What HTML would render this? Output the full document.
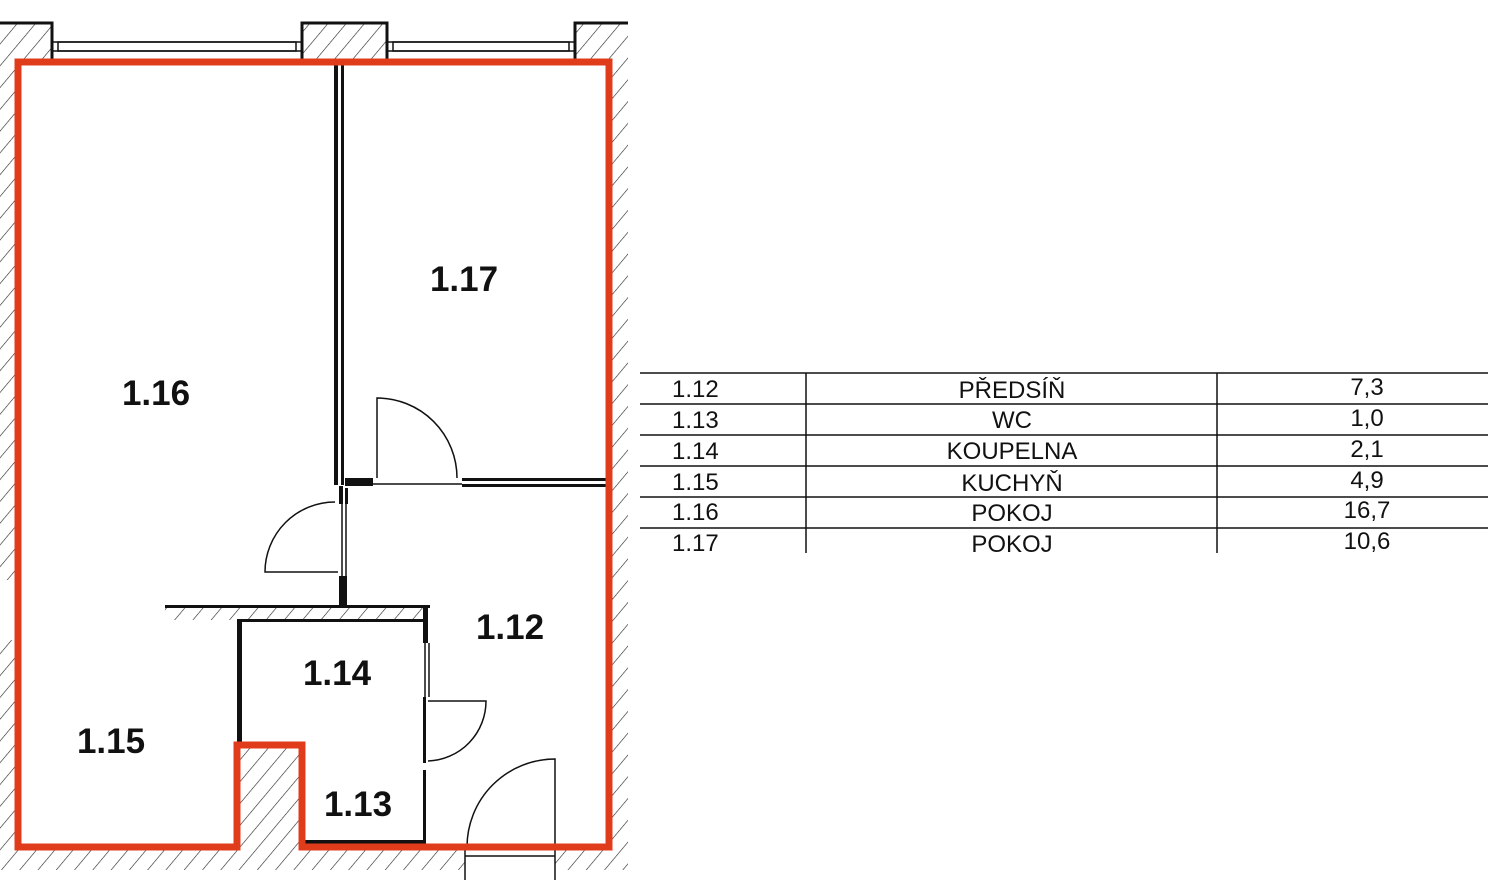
<!DOCTYPE html>
<html><head><meta charset="utf-8"><style>
body{margin:0;background:#fff;width:1495px;height:885px;overflow:hidden}
svg{display:block}
.l{font-family:"Liberation Sans",sans-serif;font-weight:bold;font-size:35px;fill:#111}
.t{font-family:"Liberation Sans",sans-serif;font-size:24px;fill:#111}
</style></head><body>
<svg width="1495" height="885" viewBox="0 0 1495 885">
<defs>
<pattern id="h" width="14" height="14" patternUnits="userSpaceOnUse" patternTransform="rotate(40)">
<rect width="14" height="14" fill="#fff"/><line x1="0" y1="0" x2="0" y2="14" stroke="#222" stroke-width="1.2"/>
</pattern>
</defs>
<!-- hatched outer walls -->
<rect x="0" y="22" width="52" height="40" fill="url(#h)"/>
<rect x="302" y="22" width="85" height="40" fill="url(#h)"/>
<rect x="575" y="22" width="53" height="40" fill="url(#h)"/>
<rect x="0" y="62" width="18" height="808" fill="url(#h)"/>
<rect x="609" y="62" width="19" height="808" fill="url(#h)"/>
<rect x="0" y="847" width="628" height="23" fill="url(#h)"/>
<rect x="237" y="745" width="65" height="102" fill="url(#h)"/>
<rect x="165" y="605" width="265" height="15" fill="url(#h)"/>
<rect x="465" y="850" width="90" height="35" fill="#fff"/>
<rect x="0" y="580" width="18" height="60" fill="#fff"/>
<!-- wall outlines -->
<g stroke="#111" fill="none" stroke-width="3">
<path d="M0 23 H52 V62 M302 62 V23 H387 V62 M575 62 V23 H628"/>
</g>
<g stroke="#111" fill="none" stroke-width="1.5">
<line x1="52" y1="42" x2="302" y2="42"/><line x1="52" y1="51" x2="302" y2="51"/>
<rect x="58" y="42" width="238" height="9"/>
<line x1="387" y1="42" x2="575" y2="42"/><line x1="387" y1="51" x2="575" y2="51"/>
<rect x="393" y="42" width="176" height="9"/>
</g>
<!-- interior walls -->
<g fill="#111">
<rect x="334" y="65" width="4" height="420"/><rect x="341" y="65" width="3" height="420"/>
<rect x="345" y="478" width="28" height="8"/>
<rect x="462" y="478" width="147" height="3"/><rect x="462" y="484" width="147" height="3"/>
<rect x="339" y="486" width="4" height="18"/><rect x="345" y="488" width="3" height="16"/>
<rect x="339" y="576" width="8" height="30"/>
<rect x="165" y="605" width="180" height="3"/><rect x="343" y="605" width="87" height="3"/>
<rect x="240" y="619" width="185" height="3"/>
<rect x="237" y="619" width="5" height="126"/>
<rect x="423" y="605" width="5" height="38"/>
<rect x="423" y="697" width="3" height="66"/>
<rect x="423" y="770" width="3" height="75"/>
<rect x="302" y="840" width="124" height="4"/>
<rect x="237" y="742" width="65" height="4"/>
</g>
<g stroke="#111" fill="none" stroke-width="1.5">
<line x1="372" y1="484" x2="462" y2="484"/>
<line x1="342" y1="504" x2="342" y2="576"/><line x1="346" y1="504" x2="346" y2="576"/>
<line x1="425" y1="643" x2="425" y2="697"/><line x1="429" y1="643" x2="429" y2="697"/>
<!-- doors -->
<path d="M377 478 V398 A80 80 0 0 1 457 478"/>
<path d="M338 572 H265 A70 70 0 0 1 335 502"/>
<path d="M428 701 H486 A60 60 0 0 1 428 761"/>
<path d="M555 847 V759 A88 88 0 0 0 467 847"/>
<line x1="465" y1="850" x2="465" y2="880"/><line x1="555" y1="850" x2="555" y2="880"/>
<line x1="465" y1="856" x2="555" y2="856"/>
</g>
<!-- red outline -->
<path d="M18 62 H609 V847 H302 V745 H237 V847 H18 Z" fill="none" stroke="#e03c1c" stroke-width="7" stroke-linejoin="miter"/>
<!-- labels -->
<text class="l" x="156" y="405" text-anchor="middle">1.16</text>
<text class="l" x="464" y="291" text-anchor="middle">1.17</text>
<text class="l" x="510" y="639" text-anchor="middle">1.12</text>
<text class="l" x="337" y="685" text-anchor="middle">1.14</text>
<text class="l" x="111" y="753" text-anchor="middle">1.15</text>
<text class="l" x="358" y="816" text-anchor="middle">1.13</text>
<!-- table -->
<g stroke="#111" stroke-width="1.5">
<line x1="640" y1="373" x2="1488" y2="373"/>
<line x1="640" y1="404" x2="1488" y2="404"/>
<line x1="640" y1="435" x2="1488" y2="435"/>
<line x1="640" y1="466" x2="1488" y2="466"/>
<line x1="640" y1="497" x2="1488" y2="497"/>
<line x1="640" y1="528" x2="1488" y2="528"/>
<line x1="806" y1="373" x2="806" y2="553"/>
<line x1="1217" y1="373" x2="1217" y2="553"/>
</g>
<g class="t">
<text x="672" y="397">1.12</text><text x="1012" y="398" text-anchor="middle">PŘEDSÍŇ</text><text x="1367" y="395" text-anchor="middle">7,3</text>
<text x="672" y="428">1.13</text><text x="1012" y="428" text-anchor="middle">WC</text><text x="1367" y="426" text-anchor="middle">1,0</text>
<text x="672" y="459">1.14</text><text x="1012" y="459" text-anchor="middle">KOUPELNA</text><text x="1367" y="457" text-anchor="middle">2,1</text>
<text x="672" y="490">1.15</text><text x="1012" y="491" text-anchor="middle">KUCHYŇ</text><text x="1367" y="488" text-anchor="middle">4,9</text>
<text x="672" y="520">1.16</text><text x="1012" y="521" text-anchor="middle">POKOJ</text><text x="1367" y="518" text-anchor="middle">16,7</text>
<text x="672" y="551">1.17</text><text x="1012" y="552" text-anchor="middle">POKOJ</text><text x="1367" y="549" text-anchor="middle">10,6</text>
</g>
</svg>
</body></html>
